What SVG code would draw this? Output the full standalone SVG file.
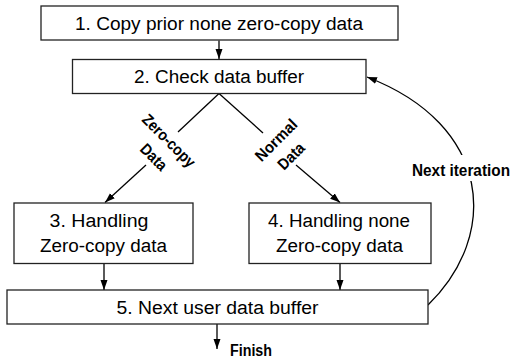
<svg xmlns="http://www.w3.org/2000/svg" width="531" height="358" viewBox="0 0 531 358">
<defs>
<marker id="ah" markerUnits="userSpaceOnUse" markerWidth="10" markerHeight="10" viewBox="0 0 10 10" refX="10" refY="5" orient="auto">
<path d="M0,1.5 L10,5 L0,8.5 Z" fill="#000"/>
</marker>
<style>
.box{fill:#fff;stroke:#222;stroke-width:1.3}
.t{font-family:"Liberation Sans",Arial,sans-serif;font-size:18px;fill:#000;text-anchor:middle}
.b{font-family:"Liberation Sans",Arial,sans-serif;font-size:16px;font-weight:bold;fill:#000;text-anchor:middle}
.ln{fill:none;stroke:#000;stroke-width:1.3}
.ar{fill:none;stroke:#000;stroke-width:1.3;marker-end:url(#ah)}
</style>
</defs>
<rect width="531" height="358" fill="#fff"/>
<g id="connectors">
<line class="ar" x1="219" y1="40.5" x2="219" y2="59"/>
<line class="ln" x1="219" y1="93.5" x2="178" y2="132"/>
<line class="ln" x1="219" y1="93.5" x2="263" y2="133"/>
<line class="ar" x1="146" y1="165" x2="105" y2="202.5"/>
<line class="ar" x1="296" y1="165" x2="340" y2="202.5"/>
<line class="ar" x1="104" y1="263.5" x2="104" y2="290"/>
<line class="ar" x1="340" y1="263.5" x2="340" y2="290"/>
<line class="ar" x1="217" y1="324" x2="217" y2="349"/>
<path class="ar" d="M428,305 C500,235 492,125 367,77"/>
<rect x="410" y="155" width="106" height="26" fill="#fff"/>
<text class="b" x="461" y="175.5" textLength="98" lengthAdjust="spacingAndGlyphs">Next iteration</text>
<text class="b" transform="translate(165,144.5) rotate(45)" textLength="68" lengthAdjust="spacingAndGlyphs">Zero-copy</text>
<text class="b" transform="translate(150,161) rotate(45)" textLength="31" lengthAdjust="spacingAndGlyphs">Data</text>
<text class="b" transform="translate(280,144) rotate(-45)" textLength="52" lengthAdjust="spacingAndGlyphs">Normal</text>
<text class="b" transform="translate(295,160) rotate(-45)" textLength="31" lengthAdjust="spacingAndGlyphs">Data</text>
<text class="b" x="251" y="355.5" textLength="42" lengthAdjust="spacingAndGlyphs">Finish</text>
</g>
<g id="n1">
<rect class="box" x="41" y="6" width="357" height="34"/>
<text class="t" x="219" y="29.5" textLength="288" lengthAdjust="spacingAndGlyphs">1. Copy prior none zero-copy data</text>
</g>
<g id="n2">
<rect class="box" x="72.5" y="59.5" width="293.5" height="34"/>
<text class="t" x="219" y="82.5" textLength="170" lengthAdjust="spacingAndGlyphs">2. Check data buffer</text>
</g>
<g id="n3">
<rect class="box" x="14" y="203" width="179" height="60.5"/>
<text class="t" x="99" y="227" textLength="99" lengthAdjust="spacingAndGlyphs">3. Handling</text>
<text class="t" x="103.5" y="251.5" textLength="127" lengthAdjust="spacingAndGlyphs">Zero-copy data</text>
</g>
<g id="n4">
<rect class="box" x="249" y="203" width="182" height="60.5"/>
<text class="t" x="339" y="227" textLength="142" lengthAdjust="spacingAndGlyphs">4. Handling none</text>
<text class="t" x="339.5" y="251.5" textLength="127" lengthAdjust="spacingAndGlyphs">Zero-copy data</text>
</g>
<g id="n5">
<rect class="box" x="7" y="290" width="421" height="34"/>
<text class="t" x="217.5" y="313.5" textLength="202" lengthAdjust="spacingAndGlyphs">5. Next user data buffer</text>
</g>
</svg>
